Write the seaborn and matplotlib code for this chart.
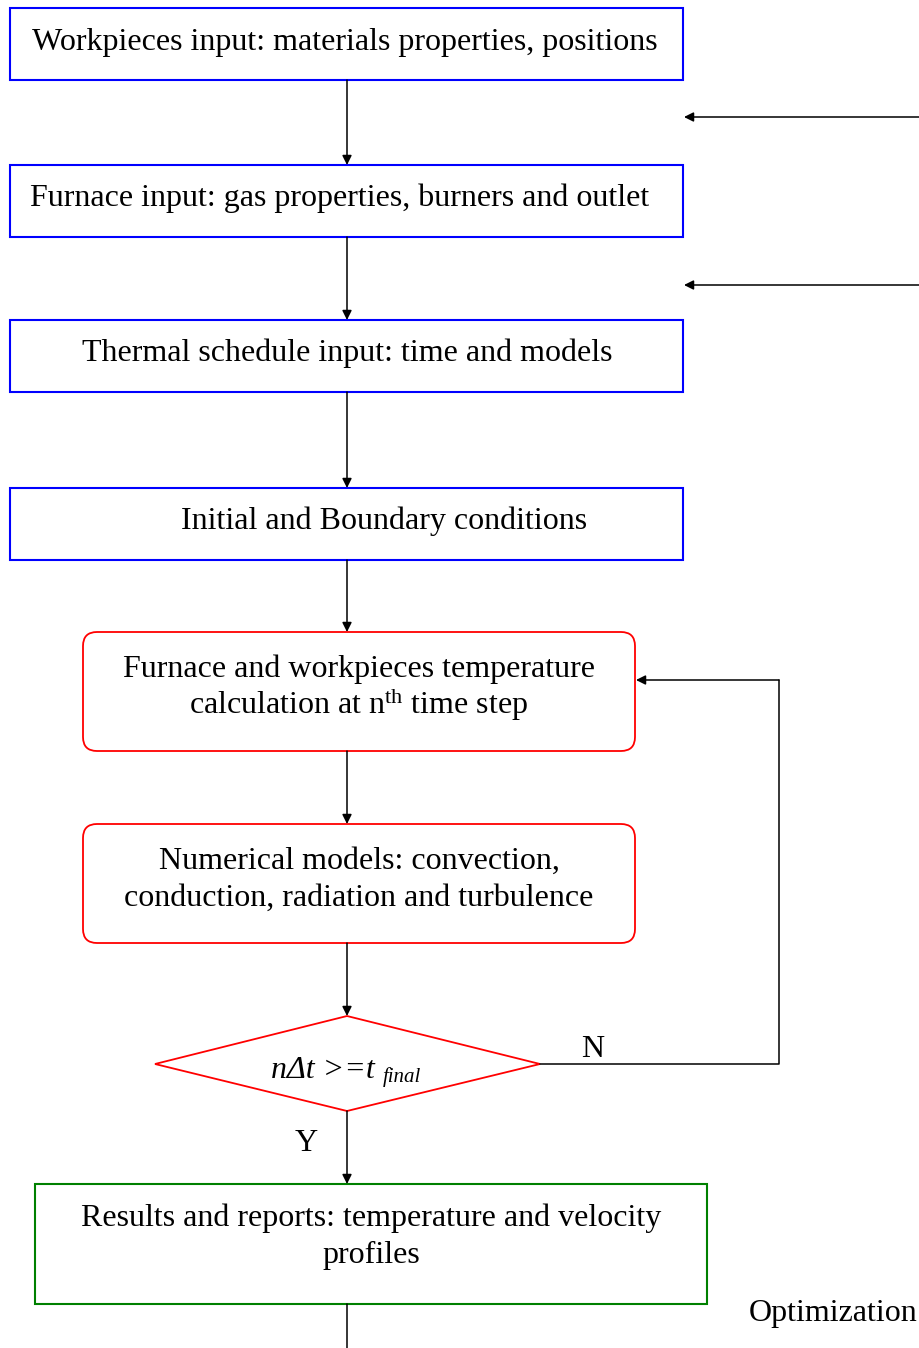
import matplotlib
matplotlib.use("Agg")
import matplotlib.pyplot as plt
from matplotlib.patches import Rectangle, FancyBboxPatch, Polygon
import seaborn as sns

# flowchart content
box_labels = [
    "Workpieces input: materials properties, positions",
    "Furnace input: gas properties, burners and outlet",
    "Thermal schedule input: time and models",
    "Initial and Boundary conditions",
    "Furnace and workpieces temperature\ncalculation at n$^{\\rm th}$ time step",
    "Numerical models: convection,\nconduction, radiation and turbulence",
    "Results and reports: temperature and velocity\nprofiles",
]
box_kinds = ["input", "input", "input", "input", "calc", "calc", "result"]
decision_label = "nΔt >=t"
decision_sub = "final"
branch_labels = ["N", "Y"]
side_label = "Optimization"

# layout (pixel space of the figure)
box_x = [10, 10, 10, 10, 83, 83, 35]
box_w = [673, 673, 673, 673, 552, 552, 672]
box_top = [8, 165, 320, 488, 632, 824, 1184]
box_h = [72, 72, 72, 72, 119, 119, 120]
text_x = [345, 340, 347, 384, 359, 359, 371]
text_base = [50, 206, 361, 529, 677, 869, 1226]
line_gap = 37

kind_color = {"input": "#0000ff", "calc": "#ff0000", "result": "#008000"}

sns.set_style("white")
plt.rcParams["font.family"] = ["Liberation Serif", "DejaVu Serif"]
plt.rcParams["text.color"] = "black"
plt.rcParams["mathtext.fontset"] = "custom"
plt.rcParams["mathtext.rm"] = "Liberation Serif"
plt.rcParams["mathtext.it"] = "Liberation Serif:italic"

fig = plt.figure(figsize=(9.2, 13.48), dpi=100)
ax = fig.add_axes([0, 0, 1, 1])
ax.set_xlim(0, 920)
ax.set_ylim(1348, 0)
ax.axis("off")

fs = 23

for i, label in enumerate(box_labels):
    color = kind_color[box_kinds[i]]
    if box_kinds[i] == "calc":
        patch = FancyBboxPatch(
            (box_x[i], box_top[i]), box_w[i], box_h[i],
            boxstyle="round,pad=0,rounding_size=14",
            fill=False, edgecolor=color, linewidth=1.3
        )
    else:
        patch = Rectangle(
            (box_x[i], box_top[i]), box_w[i], box_h[i],
            fill=False, edgecolor=color, linewidth=1.5
        )
    ax.add_patch(patch)
    for k, line in enumerate(label.split("\n")):
        ax.text(text_x[i], text_base[i] + k * line_gap, line,
                ha="center", va="baseline", fontsize=fs, color="black")

# decision diamond
cx, cy = 347, 1064
diamond = Polygon(
    [(155, cy), (cx, 1016), (540, cy), (cx, 1111)],
    closed=True, fill=False, edgecolor="#ff0000", linewidth=1.3
)
ax.add_patch(diamond)
ax.text(271, 1078, decision_label, ha="left", va="baseline",
        fontsize=fs, fontstyle="italic", color="black")
ax.text(383, 1082, decision_sub, ha="left", va="baseline",
        fontsize=15, fontstyle="italic", color="black")

arrow_kw = dict(arrowstyle="-|>", color="black", lw=1.1,
                mutation_scale=14, shrinkA=0, shrinkB=0)

# vertical flow
seg_start = [80, 237, 392, 560, 751, 943, 1111]
seg_end = [165, 320, 488, 632, 824, 1016, 1184]
for y0, y1 in zip(seg_start, seg_end):
    ax.annotate("", xy=(347, y1), xytext=(347, y0), arrowprops=arrow_kw)
ax.plot([347, 347], [1304, 1348], color="black", lw=1.1)

# incoming arrows from the right
for y in [117, 285]:
    ax.annotate("", xy=(684, y), xytext=(920, y), arrowprops=arrow_kw)

# loop back
ax.plot([540, 779, 779], [cy, cy, 680], color="black", lw=1.1)
ax.annotate("", xy=(636, 680), xytext=(779, 680), arrowprops=arrow_kw)

ax.text(593, 1057, branch_labels[0], ha="center", va="baseline",
        fontsize=fs, color="black")
ax.text(306, 1151, branch_labels[1], ha="center", va="baseline",
        fontsize=fs, color="black")
ax.text(918, 1321, side_label, ha="right", va="baseline",
        fontsize=fs, color="black")

fig.savefig("out.png", dpi=100)
plt.close(fig)
